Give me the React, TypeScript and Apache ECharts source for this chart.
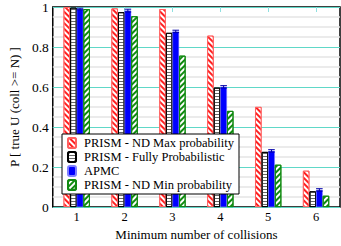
import React, { useEffect, useRef } from "react";
import * as echarts from "echarts";

const categories = ["1", "2", "3", "4", "5", "6"];
const seriesNames = [
  "PRISM - ND Max probability",
  "PRISM - Fully Probabilistic",
  "APMC",
  "PRISM - ND Min probability",
];
const maxProb = [1.0, 0.993, 0.99, 0.857, 0.501, 0.182];
const fullyProb = [0.997, 0.974, 0.871, 0.597, 0.276, 0.079];
const apmc = [0.99, 0.982, 0.878, 0.601, 0.281, 0.086];
const apmcErr = [0.004, 0.007, 0.006, 0.006, 0.006, 0.006];
const minProb = [0.99, 0.954, 0.757, 0.481, 0.212, 0.057];

const FONT = "Liberation Serif";
const BAR_W = 6.6;

export default function App() {
  const ref = useRef<HTMLDivElement>(null);
  useEffect(() => {
    if (!ref.current) return;
    const chart = echarts.init(ref.current, undefined, { renderer: "svg" });
    const errData = apmc.map((v, i) => [i, v, apmcErr[i]]);
    chart.setOption({
      animation: false,
      backgroundColor: "#ffffff",
      grid: {
        left: 40,
        right: 1,
        top: 5,
        bottom: 31,
        show: true,
        borderColor: "#000",
        borderWidth: 1.5,
        backgroundColor: "transparent",
      },
      legend: {
        data: seriesNames,
        orient: "vertical",
        left: 62,
        top: 134,
        padding: [2, 5, 2, 5],
        itemWidth: 8,
        itemHeight: 10,
        itemGap: 0,
        backgroundColor: "#fff",
        borderColor: "#000",
        borderWidth: 1,
        textStyle: { fontFamily: FONT, fontSize: 12.5, lineHeight: 14, color: "#000", padding: [0, 0, 0, 3] },
      },
      xAxis: [
        {
          type: "category",
          data: categories,
          name: "Minimum number of collisions",
          nameLocation: "middle",
          nameGap: 14,
          nameTextStyle: { fontFamily: FONT, fontSize: 13, color: "#000" },
          axisLine: { show: false },
          axisTick: { show: true, inside: true, alignWithLabel: true, length: 4, lineStyle: { color: "#8fe0e0" } },
          axisLabel: { fontFamily: FONT, fontSize: 12.5, color: "#000", margin: 3 },
          splitLine: { show: false },
        },
        {
          type: "category",
          data: categories,
          position: "top",
          axisLine: { show: false },
          axisTick: { show: true, inside: true, alignWithLabel: true, length: 5, lineStyle: { color: "#8fe0e0" } },
          axisLabel: { show: false },
        },
      ],
      yAxis: {
        type: "value",
        min: 0,
        max: 1,
        interval: 0.2,
        name: "P [ true U (coll >= N) ]",
        nameLocation: "middle",
        nameGap: 22,
        nameTextStyle: { fontFamily: FONT, fontSize: 13, color: "#000" },
        axisLine: { show: false },
        axisTick: { show: false },
        axisLabel: { fontFamily: FONT, fontSize: 13.5, color: "#000", margin: 4 },
        splitLine: { show: true, lineStyle: { color: "#60d8c8", width: 1 } },
        minorTick: { show: false, splitNumber: 4 },
        minorSplitLine: { show: true, lineStyle: { color: "#e4e4e4", width: 1.5 } },
      },
      series: [
        {
          name: seriesNames[0],
          type: "bar",
          data: maxProb,
          barWidth: BAR_W,
          barGap: "0%",
          itemStyle: {
            color: "#ff2020",
            borderColor: "#ff6060",
            borderWidth: 1,
            decal: {
              symbol: "rect",
              symbolSize: 1,
              dashArrayX: [1, 0],
              dashArrayY: [1.2, 2],
              rotation: Math.PI / 4,
              color: "#ffffff",
            },
          },
        },
        {
          name: seriesNames[1],
          type: "bar",
          data: fullyProb,
          barWidth: BAR_W,
          barGap: "0%",
          itemStyle: {
            color: "#ffffff",
            borderColor: "#000",
            borderWidth: 1,
            decal: {
              symbol: "rect",
              symbolSize: 1,
              dashArrayX: [1, 0],
              dashArrayY: [1, 1.2],
              rotation: 0,
              color: "#666",
            },
          },
        },
        {
          name: seriesNames[2],
          type: "bar",
          data: apmc,
          barWidth: BAR_W,
          barGap: "0%",
          itemStyle: { color: "#0000ff", borderColor: "#8080ff", borderWidth: 0.5 },
        },
        {
          name: seriesNames[3],
          type: "bar",
          data: minProb,
          barWidth: BAR_W,
          barGap: "0%",
          itemStyle: {
            color: "#ffffff",
            borderColor: "#108a10",
            borderWidth: 1,
            decal: {
              symbol: "rect",
              symbolSize: 1,
              dashArrayX: [1, 0],
              dashArrayY: [1.2, 1.6],
              rotation: -Math.PI / 4,
              color: "#108a10",
            },
          },
        },
        {
          name: "err",
          type: "custom",
          data: errData,
          z: 10,
          renderItem: (params: any, api: any) => {
            const idx = api.value(0);
            const v = api.value(1);
            const e = api.value(2);
            const off = BAR_W * 0.5;
            const top = api.coord([idx, v + e]);
            const bot = api.coord([idx, v - e]);
            const x = top[0] + off;
            const hw = BAR_W / 2;
            const st = { stroke: "#0000aa", lineWidth: 1 };
            return {
              type: "group",
              children: [
                { type: "line", shape: { x1: x, y1: top[1], x2: x, y2: bot[1] }, style: st },
                { type: "line", shape: { x1: x - hw, y1: top[1], x2: x + hw, y2: top[1] }, style: st },
                { type: "line", shape: { x1: x - hw, y1: bot[1], x2: x + hw, y2: bot[1] }, style: st },
              ],
            };
          },
        },
      ],
    });
    return () => chart.dispose();
  }, []);
  return (
    <div
      ref={ref}
      style={{ position: "absolute", left: 0, top: 0, width: 341, height: 246 }}
    />
  );
}
